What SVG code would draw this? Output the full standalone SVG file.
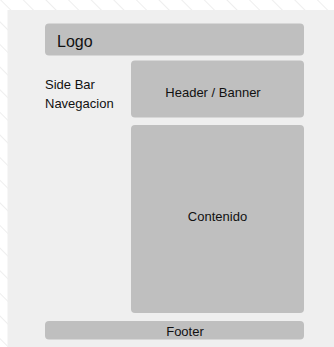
<svg xmlns="http://www.w3.org/2000/svg" width="334" height="347" viewBox="0 0 334 347">
  <defs>
    <pattern id="hatch" patternUnits="userSpaceOnUse" width="16" height="16" patternTransform="rotate(-45)">
      <rect width="16" height="16" fill="#ffffff"/>
      <line x1="0" y1="0" x2="0" y2="16" stroke="#e4e4e4" stroke-width="1.2"/>
    </pattern>
  </defs>
  <style>
    .box { fill: #bfbfbf; }
    .t { font-family: "Liberation Sans", Arial, sans-serif; font-size: 13px; fill: #111111; }
  </style>
  <rect x="0" y="0" width="334" height="347" fill="url(#hatch)"/>
  <rect x="7.5" y="10" width="326.5" height="337" fill="#efefef"/>

  <g id="logo">
    <rect class="box" x="45" y="23.5" width="259" height="32" rx="4"/>
    <text class="t" x="57" y="47" style="font-size:16px">Logo</text>
  </g>
  <g id="sidebar">
    <text class="t" x="45" y="89">Side Bar</text>
    <text class="t" x="45" y="108">Navegacion</text>
  </g>
  <g id="header">
    <rect class="box" x="131" y="60.5" width="173" height="57" rx="4"/>
    <text class="t" x="213" y="96.5" text-anchor="middle">Header / Banner</text>
  </g>
  <g id="contenido">
    <rect class="box" x="131" y="125" width="173" height="188" rx="4"/>
    <text class="t" x="217.5" y="221" text-anchor="middle">Contenido</text>
  </g>
  <g id="footer">
    <rect class="box" x="45" y="321" width="259" height="18.5" rx="4"/>
    <text class="t" x="185" y="336" text-anchor="middle">Footer</text>
  </g>
  <g id="connectors"/>
</svg>
